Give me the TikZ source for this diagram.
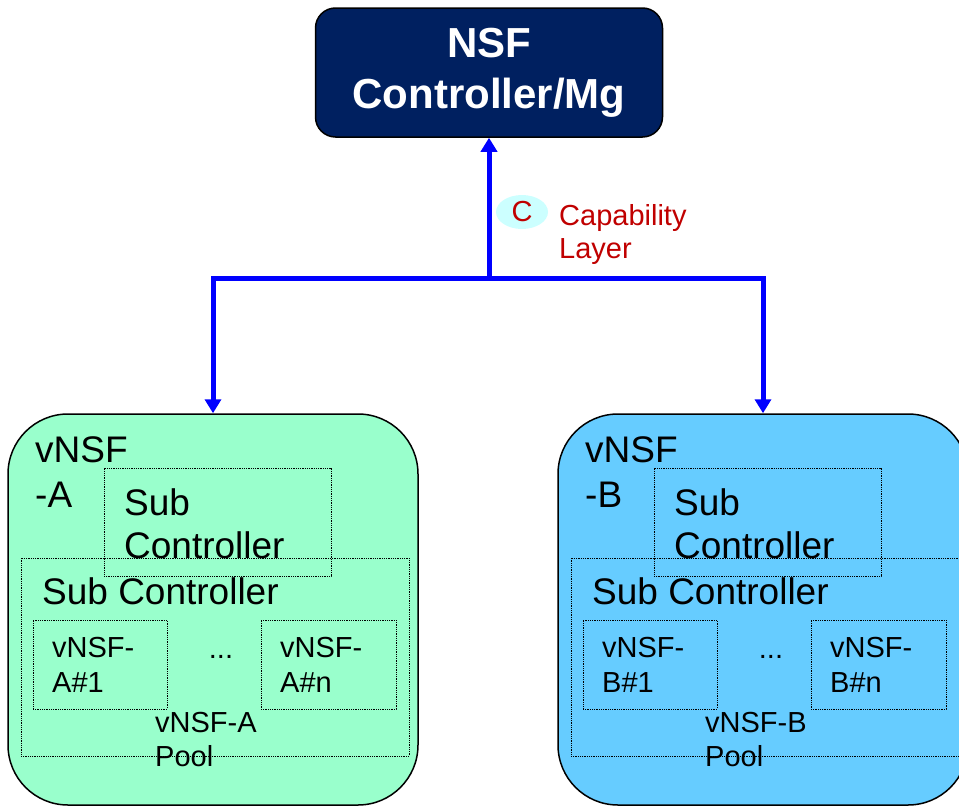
\documentclass[tikz,border=0pt]{standalone}
\usepackage{fontspec}
\setmainfont{Liberation Sans}
\usepackage{tikz}
\usetikzlibrary{shapes.geometric,arrows.meta,positioning}
\definecolor{navy}{RGB}{0,32,96}
\definecolor{mint}{RGB}{153,255,204}
\definecolor{sky}{RGB}{102,204,255}
\definecolor{linkblue}{RGB}{0,0,255}
\definecolor{capred}{RGB}{192,0,0}
\definecolor{capfill}{RGB}{204,255,255}

\begin{document}
\begin{tikzpicture}[x=1pt, y=-1pt,
        ctrl/.style={rectangle, rounded corners=20pt, draw=black, line width=1.5pt, fill=navy, text=white, minimum width=347pt, minimum height=129pt, align=center, font=\fontsize{42}{51}\selectfont\bfseries},
        vnsfbox/.style={rectangle, rounded corners=60pt, draw=black, line width=1.5pt, minimum width=410pt, minimum height=391pt},
        dotbox/.style={rectangle, draw=black, densely dotted, line width=0.8pt, inner sep=0pt},
        bigtxt/.style={inner sep=0pt, anchor=north west, align=left, font=\fontsize{37}{45}\selectfont},
        smalltxt/.style={inner sep=0pt, anchor=north west, align=left, font=\fontsize{29}{35}\selectfont},
        bus/.style={-{Triangle[width=16pt,length=14pt]}, line width=5pt, draw=linkblue}]

        \useasboundingbox (0,0) rectangle (959,806);

        \node[ctrl] (CTRL) at (489,72.5) {NSF\\Controller/Mg};

        % capability layer
        \node[ellipse, fill=capfill, minimum width=52pt, minimum height=34pt, inner sep=0pt, text=capred, font=\fontsize{29}{33}\selectfont] (CAP) at (522,212) {C};
        \node[smalltxt, text=capred, font=\fontsize{29}{33}\selectfont] (CAPTXT) at (559,204) {Capability\\Layer};

        % vNSF-A
        \node[vnsfbox, fill=mint] (VA) at (213,609.5) {};
        \node[bigtxt] (VATXT) at (35,436) {vNSF\\-A};
        \node[dotbox, minimum width=227pt, minimum height=108pt] (SUBA) at (217.5,522) {};
        \node[bigtxt, font=\fontsize{37}{43}\selectfont] (SUBATXT) at (124,488.5) {Sub\\Controller};
        \node[dotbox, minimum width=388pt, minimum height=198pt] (POOLA) at (215,657) {};
        \node[bigtxt] (PSUBA) at (42,577.5) {Sub Controller};
        \node[dotbox, minimum width=134pt, minimum height=89pt] (A1) at (100,664.5) {};
        \node[smalltxt] (A1TXT) at (52,637) {vNSF-\\A\#1};
        \node[inner sep=0pt, anchor=base, font=\fontsize{29}{35}\selectfont] (ADOTS) at (221,658) {...};
        \node[dotbox, minimum width=135pt, minimum height=89pt] (AN) at (328.5,664.5) {};
        \node[smalltxt] (ANTXT) at (280,637) {vNSF-\\A\#n};
        \node[smalltxt, font=\fontsize{29}{34}\selectfont] (POOLATXT) at (155,712) {vNSF-A\\Pool};

        % vNSF-B
        \node[vnsfbox, fill=sky] (VB) at (763,609.5) {};
        \node[bigtxt] (VBTXT) at (585,436) {vNSF\\-B};
        \node[dotbox, minimum width=227pt, minimum height=108pt] (SUBB) at (767.5,522) {};
        \node[bigtxt, font=\fontsize{37}{43}\selectfont] (SUBBTXT) at (674,488.5) {Sub\\Controller};
        \node[dotbox, minimum width=388pt, minimum height=198pt] (POOLB) at (765,657) {};
        \node[bigtxt] (PSUBB) at (592,577.5) {Sub Controller};
        \node[dotbox, minimum width=134pt, minimum height=89pt] (B1) at (650,664.5) {};
        \node[smalltxt] (B1TXT) at (602,637) {vNSF-\\B\#1};
        \node[inner sep=0pt, anchor=base, font=\fontsize{29}{35}\selectfont] (BDOTS) at (771,658) {...};
        \node[dotbox, minimum width=135pt, minimum height=89pt] (BN) at (878.5,664.5) {};
        \node[smalltxt] (BNTXT) at (830,637) {vNSF-\\B\#n};
        \node[smalltxt, font=\fontsize{29}{34}\selectfont] (POOLBTXT) at (705,712) {vNSF-B\\Pool};

        % links
        \coordinate (JUNC) at (489,278);
        \draw[bus] (JUNC) -- (CTRL.south);
        \draw[bus] (JUNC) -| (VA.north);
        \draw[bus] (JUNC) -| (VB.north);

    \end{tikzpicture}
\end{document}
